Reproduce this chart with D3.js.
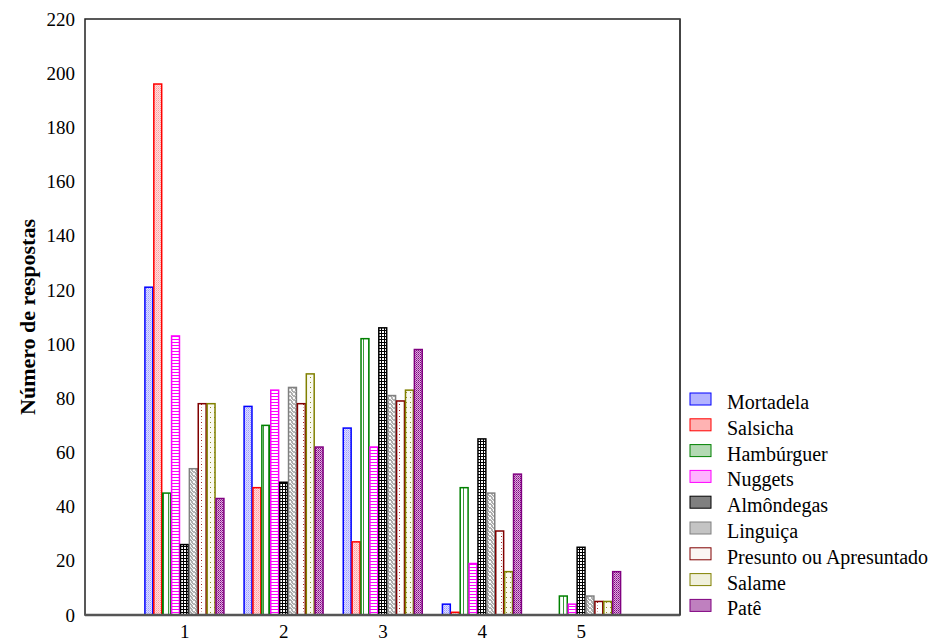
<!DOCTYPE html>
<html lang="pt">
<head>
    <meta charset="utf-8">
    <title>Número de respostas</title>
    <script src="https://d3js.org/d3.v7.min.js"></script>
    <style>
        body { margin: 0; background: #fff; }
        svg text { font-family: "Liberation Serif", "Times New Roman", serif; fill: #000; }
        .tick text { font-size: 19px; }
        .legend text { font-size: 20px; }
    </style>
</head>
<body>
<script>
    // categories on the x axis
    var groups = ["1", "2", "3", "4", "5"];
    var series = ["Mortadela", "Salsicha", "Hambúrguer", "Nuggets", "Almôndegas",
                  "Linguiça", "Presunto ou Apresuntado", "Salame", "Patê"];
    // one array per series, values for groups 1..5
    var mortadela  = [121, 77, 69, 4, 0];
    var salsicha   = [196, 47, 27, 1, 0];
    var hamburguer = [45, 70, 102, 47, 7];
    var nuggets    = [103, 83, 62, 19, 4];
    var almondegas = [26, 49, 106, 65, 25];
    var linguica   = [54, 84, 81, 45, 7];
    var presunto   = [78, 78, 79, 31, 5];
    var salame     = [78, 89, 83, 16, 5];
    var pate       = [43, 62, 98, 52, 16];
    var yTicks = [0, 20, 40, 60, 80, 100, 120, 140, 160, 180, 200, 220];

    var values = [mortadela, salsicha, hamburguer, nuggets, almondegas,
                  linguica, presunto, salame, pate];

    var width = 929, height = 641;
    var plotL = 85, plotR = 680, plotT = 19, plotB = 615;

    // stroke colours and legend fills
    var strokes = ["#0000ff", "#ff0000", "#008000", "#ff00ff", "#000000",
                   "#808080", "#800000", "#808000", "#800080"];
    var swatch = ["#b3b3ff", "#ffb3b3", "#b3d9b3", "#ffb3ff", "#808080",
                  "#c4c4c4", "#faf6f4", "#f0f0dc", "#bf80bf"];

    var svg = d3.select("body").append("svg")
        .attr("width", width)
        .attr("height", height);

    // fill patterns, one per series
    var defs = svg.append("defs");
    function pat(id, w, h) {
        return defs.append("pattern").attr("id", id)
            .attr("patternUnits", "userSpaceOnUse")
            .attr("width", w).attr("height", h);
    }
    var p;
    // Mortadela: light blue fine texture
    p = pat("p0", 2, 2);
    p.append("rect").attr("width", 2).attr("height", 2).attr("fill", "#e0e0ff");
    p.append("rect").attr("width", 1).attr("height", 1).attr("fill", "#9a9aff");
    p.append("rect").attr("x", 1).attr("y", 1).attr("width", 1).attr("height", 1).attr("fill", "#b8b8ff");
    // Salsicha: light pink fine texture
    p = pat("p1", 2, 2);
    p.append("rect").attr("width", 2).attr("height", 2).attr("fill", "#ffe0e0");
    p.append("rect").attr("width", 1).attr("height", 1).attr("fill", "#ff9a9a");
    p.append("rect").attr("x", 1).attr("y", 1).attr("width", 1).attr("height", 1).attr("fill", "#ffb8b8");
    // Hambúrguer: white with vertical green line
    p = pat("p2", 5, 4);
    p.append("rect").attr("width", 5).attr("height", 4).attr("fill", "#ffffff");
    p.append("rect").attr("x", 3).attr("width", 1).attr("height", 4).attr("fill", "#3a9a3a");
    // Nuggets: ladder
    p = pat("p3", 3, 3);
    p.append("rect").attr("width", 3).attr("height", 3).attr("fill", "#ffffff");
    p.append("rect").attr("width", 3).attr("height", 1).attr("fill", "#ff00ff");
    // Almôndegas: black grid
    p = pat("p4", 3, 3);
    p.append("rect").attr("width", 3).attr("height", 3).attr("fill", "#000000");
    p.append("rect").attr("x", 1).attr("y", 1).attr("width", 2).attr("height", 2).attr("fill", "#ffffff");
    // Linguiça: gray checker
    p = pat("p5", 4, 4);
    p.append("rect").attr("width", 4).attr("height", 4).attr("fill", "#a8a8a8");
    p.append("circle").attr("cx", 2).attr("cy", 2).attr("r", 1.2).attr("fill", "#ffffff");
    p.append("circle").attr("cx", 0).attr("cy", 0).attr("r", 1.2).attr("fill", "#ffffff");
    p.append("circle").attr("cx", 4).attr("cy", 4).attr("r", 1.2).attr("fill", "#ffffff");
    // Presunto: white with dark red dots
    p = pat("p6", 6, 6);
    p.append("rect").attr("width", 6).attr("height", 6).attr("fill", "#ffffff");
    p.append("rect").attr("x", 3).attr("y", 2).attr("width", 1).attr("height", 1).attr("fill", "#a02020");
    p.append("rect").attr("x", 3).attr("y", 5).attr("width", 1).attr("height", 1).attr("fill", "#e0b0b0");
    // Salame: pale with olive dots
    p = pat("p7", 4, 5);
    p.append("rect").attr("width", 4).attr("height", 5).attr("fill", "#fafaf0");
    p.append("rect").attr("x", 2).attr("y", 2).attr("width", 1).attr("height", 1).attr("fill", "#909020");
    // Patê: purple checker
    p = pat("p8", 2, 2);
    p.append("rect").attr("width", 2).attr("height", 2).attr("fill", "#e0b0e0");
    p.append("rect").attr("width", 1).attr("height", 1).attr("fill", "#800080");
    p.append("rect").attr("x", 1).attr("y", 1).attr("width", 1).attr("height", 1).attr("fill", "#a040a0");

    // scales
    var x = d3.scaleLinear().domain([0, groups.length + 1]).range([plotL, plotR]);
    var inner = d3.scaleBand().domain(series).range([-40, 40]);
    var y = d3.scaleLinear().domain([0, 220]).range([plotB, plotT]);

    // bars
    var rows = [];
    groups.forEach(function(g, gi) {
        series.forEach(function(s, si) {
            rows.push({ g: gi, s: s, si: si, v: values[si][gi] });
        });
    });

    svg.append("g").selectAll("rect")
        .data(rows.filter(function(d) { return d.v > 0; }))
        .enter().append("rect")
            .attr("x", function(d) { return x(d.g + 1) + inner(d.s) + 0.75; })
            .attr("y", function(d) { return y(d.v); })
            .attr("width", inner.bandwidth() - 1)
            .attr("height", function(d) { return y(0) - y(d.v); })
            .attr("fill", function(d) { return "url(#p" + d.si + ")"; })
            .attr("stroke", function(d) { return strokes[d.si]; })
            .attr("stroke-width", 1.5);

    // frame
    svg.append("rect")
        .attr("x", plotL).attr("y", plotT)
        .attr("width", plotR - plotL).attr("height", plotB - plotT)
        .attr("fill", "none")
        .attr("stroke", "#222")
        .attr("stroke-width", 1.5);
    svg.append("line")
        .attr("x1", plotL).attr("x2", plotR)
        .attr("y1", plotB).attr("y2", plotB)
        .attr("stroke", "#555").attr("stroke-width", 2.5);
    svg.append("line")
        .attr("x1", plotR).attr("x2", plotR)
        .attr("y1", plotT).attr("y2", plotB)
        .attr("stroke", "#444").attr("stroke-width", 2);

    // y axis
    var yAxis = svg.append("g")
        .attr("transform", "translate(" + plotL + ",0)")
        .call(d3.axisLeft(y).tickValues(yTicks).tickSize(0).tickPadding(10));
    yAxis.select(".domain").remove();
    yAxis.attr("font-family", null).attr("font-size", null);

    // x labels
    var xAxis = svg.append("g")
        .attr("transform", "translate(0," + plotB + ")")
        .call(d3.axisBottom(x).tickValues(d3.range(1, groups.length + 1))
              .tickFormat(function(d) { return groups[d - 1]; })
              .tickSize(0).tickPadding(10));
    xAxis.select(".domain").remove();
    xAxis.attr("font-family", null).attr("font-size", null);

    // y title
    svg.append("text")
        .attr("transform", "translate(27," + (plotT + plotB) / 2 + ") rotate(-90)")
        .attr("text-anchor", "middle")
        .attr("dy", "0.35em")
        .style("font-size", "22px")
        .style("font-weight", "bold")
        .text("Número de respostas");

    // legend
    var legend = svg.append("g").attr("class", "legend")
        .attr("transform", "translate(690,393)");
    var items = legend.selectAll("g").data(series).enter().append("g")
        .attr("transform", function(d, i) { return "translate(0," + i * 25.8 + ")"; });
    items.append("rect")
        .attr("width", 21).attr("height", 12)
        .attr("fill", function(d, i) { return swatch[i]; })
        .attr("stroke", function(d, i) { return strokes[i]; })
        .attr("stroke-width", 1);
    items.append("text")
        .attr("x", 37).attr("y", 16)
        .text(function(d) { return d; });
</script>
</body>
</html>
